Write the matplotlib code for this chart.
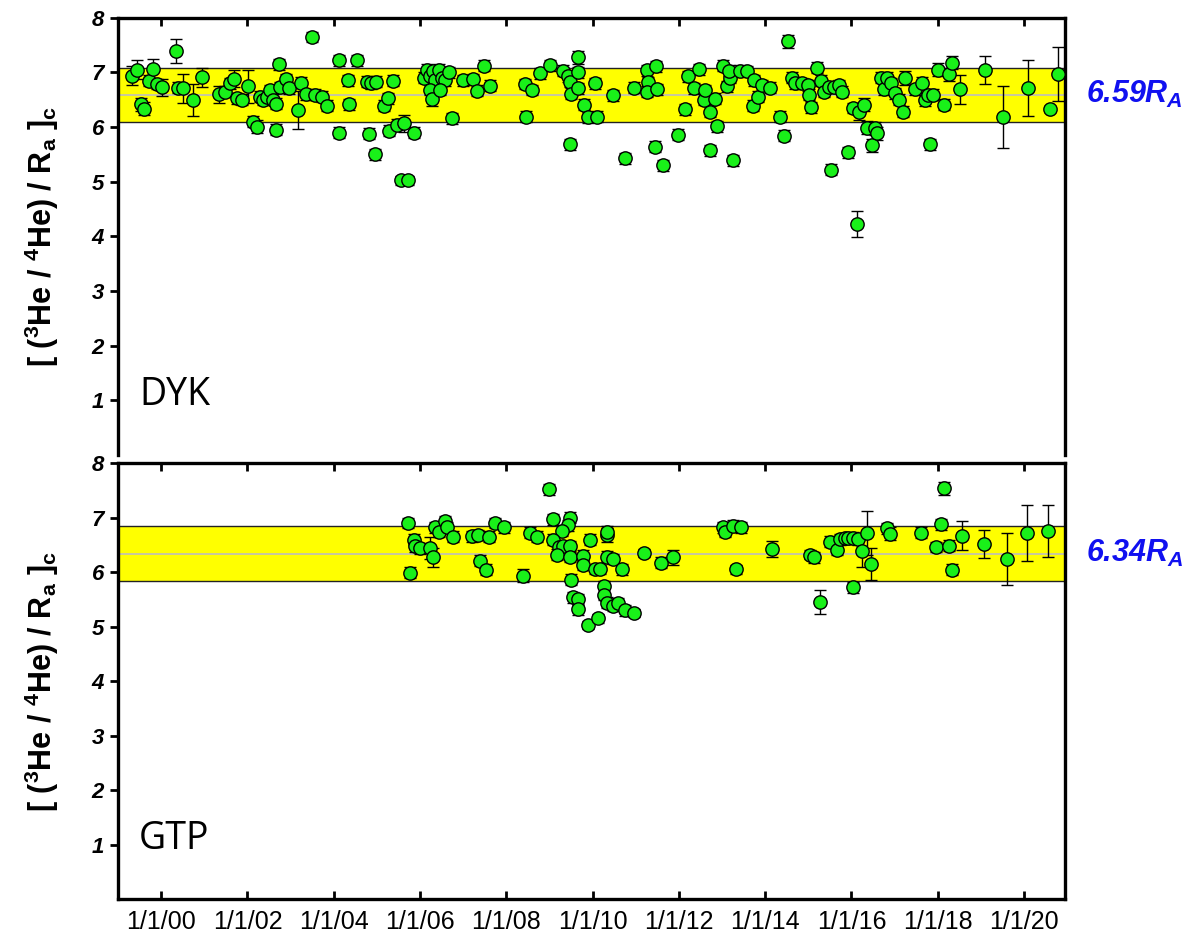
import numpy as np
import matplotlib
matplotlib.use("Agg")
import matplotlib.pyplot as plt

plt.rcParams['font.family'] = ['Liberation Sans', 'DejaVu Sans']

## DYK: год (десятичный), отношение, погрешность
dyk_year = [1999.32, 1999.44, 1999.53, 1999.61, 1999.72, 1999.81, 1999.90, 2000.03, 2000.35, 2000.39,
            2000.50, 2000.73, 2000.94, 2001.34, 2001.48, 2001.60, 2001.68, 2001.75, 2001.87, 2002.02,
            2002.12, 2002.22, 2002.29, 2002.37, 2002.45, 2002.53, 2002.60, 2002.65, 2002.67, 2002.74,
            2002.76, 2002.90, 2002.96, 2003.17, 2003.24, 2003.36, 2003.49, 2003.57, 2003.72, 2003.85,
            2004.11, 2004.12, 2004.33, 2004.36, 2004.53, 2004.77, 2004.82, 2004.87, 2004.96, 2004.98,
            2005.17, 2005.25, 2005.27, 2005.38, 2005.46, 2005.55, 2005.62, 2005.87, 2005.73,
            2006.08, 2006.16, 2006.23, 2006.31, 2006.35, 2006.43, 2006.50, 2006.58, 2006.66, 2006.23,
            2006.27, 2006.47, 2006.74, 2006.99, 2007.22, 2007.32, 2007.49, 2007.61, 2008.44, 2008.46,
            2008.59, 2008.78, 2009.02, 2009.31, 2009.44, 2009.48, 2009.50, 2009.66, 2009.67, 2009.65,
            2009.48, 2009.80, 2009.90, 2010.10, 2010.06, 2010.48, 2010.74, 2010.97, 2011.25, 2011.28,
            2011.25, 2011.47, 2011.49, 2011.45, 2011.63, 2011.99, 2012.13, 2012.22, 2012.34, 2012.47,
            2012.57, 2012.61, 2012.71, 2012.84, 2012.88, 2012.72, 2013.02, 2013.11, 2013.19, 2013.15,
            2013.26, 2013.42, 2013.57, 2013.73, 2013.71, 2013.84, 2013.92, 2014.11, 2014.34, 2014.44,
            2014.52, 2014.62, 2014.69, 2014.85, 2015.00, 2015.02, 2015.06, 2015.20, 2015.30, 2015.37,
            2015.47, 2015.60, 2015.70, 2015.77, 2015.52, 2015.93, 2016.03, 2016.18, 2016.28, 2016.12,
            2016.37, 2016.47, 2016.55, 2016.60, 2016.68, 2016.76, 2016.82, 2016.92, 2017.00, 2017.11,
            2017.20, 2017.24, 2017.47, 2017.63, 2017.71, 2017.78, 2017.90, 2017.82, 2018.00, 2018.15,
            2018.25, 2018.34, 2018.52, 2019.10, 2019.51, 2020.09, 2020.59, 2020.78]
dyk_val = [6.94, 7.05, 6.42, 6.34, 6.85, 7.06, 6.79, 6.73, 7.40, 6.72,
           6.71, 6.50, 6.91, 6.60, 6.65, 6.80, 6.89, 6.53, 6.50, 6.75,
           6.10, 6.01, 6.56, 6.50, 6.56, 6.68, 6.50, 5.95, 6.43, 7.15,
           6.73, 6.88, 6.71, 6.31, 6.81, 6.60, 7.65, 6.59, 6.56, 6.39,
           7.22, 5.90, 6.86, 6.42, 7.22, 6.83, 5.88, 6.80, 5.50, 6.83,
           6.39, 6.53, 5.93, 6.85, 6.04, 5.03, 6.07, 5.90, 5.03,
           6.90, 7.05, 6.93, 7.02, 6.86, 7.05, 6.90, 6.86, 7.00, 6.68,
           6.51, 6.68, 6.16, 6.86, 6.88, 6.67, 7.12, 6.76, 6.79, 6.19,
           6.68, 6.99, 7.13, 7.03, 6.93, 6.83, 6.61, 7.28, 7.00, 6.71,
           5.69, 6.41, 6.18, 6.19, 6.80, 6.58, 5.43, 6.72, 7.04, 6.82,
           6.65, 7.11, 6.69, 5.64, 5.30, 5.86, 6.33, 6.93, 6.71, 7.06,
           6.50, 6.68, 6.28, 6.52, 6.02, 5.58, 7.12, 6.75, 6.90, 7.03,
           5.39, 7.03, 7.02, 6.86, 6.39, 6.56, 6.77, 6.72, 6.19, 5.84,
           7.57, 6.90, 6.80, 6.80, 6.77, 6.59, 6.36, 7.09, 6.85, 6.65,
           6.73, 6.73, 6.77, 6.65, 5.22, 5.54, 6.35, 6.28, 6.41, 4.23,
           5.99, 5.67, 5.98, 5.89, 6.90, 6.69, 6.90, 6.80, 6.62, 6.50,
           6.28, 6.90, 6.69, 6.80, 6.50, 6.59, 6.59, 5.69, 7.05, 6.41,
           6.97, 7.18, 6.69, 7.05, 6.18, 6.71, 6.33, 6.97]
dyk_err = [0.17, 0.17, 0.12, 0.12, 0.10, 0.18, 0.10, 0.16, 0.22, 0.10,
           0.26, 0.29, 0.17, 0.15, 0.10, 0.10, 0.15, 0.10, 0.10, 0.30,
           0.10, 0.12, 0.10, 0.10, 0.10, 0.10, 0.10, 0.10, 0.10, 0.10,
           0.10, 0.10, 0.10, 0.35, 0.10, 0.10, 0.10, 0.10, 0.10, 0.10,
           0.10, 0.10, 0.10, 0.10, 0.10, 0.10, 0.10, 0.10, 0.10, 0.10,
           0.10, 0.10, 0.10, 0.10, 0.10, 0.08, 0.15, 0.10, 0.08,
           0.10, 0.10, 0.10, 0.10, 0.10, 0.10, 0.10, 0.10, 0.10, 0.10,
           0.12, 0.10, 0.10, 0.10, 0.10, 0.10, 0.10, 0.10, 0.10, 0.10,
           0.10, 0.10, 0.10, 0.10, 0.10, 0.10, 0.10, 0.12, 0.10, 0.10,
           0.10, 0.10, 0.10, 0.10, 0.10, 0.10, 0.10, 0.10, 0.10, 0.10,
           0.10, 0.10, 0.10, 0.10, 0.10, 0.10, 0.10, 0.10, 0.10, 0.10,
           0.10, 0.10, 0.10, 0.10, 0.10, 0.10, 0.10, 0.10, 0.10, 0.10,
           0.10, 0.10, 0.10, 0.10, 0.10, 0.10, 0.10, 0.10, 0.10, 0.10,
           0.12, 0.10, 0.10, 0.10, 0.10, 0.10, 0.10, 0.10, 0.10, 0.10,
           0.10, 0.10, 0.10, 0.10, 0.10, 0.10, 0.10, 0.15, 0.12, 0.24,
           0.12, 0.12, 0.12, 0.12, 0.10, 0.10, 0.10, 0.10, 0.10, 0.10,
           0.10, 0.12, 0.10, 0.12, 0.12, 0.10, 0.10, 0.10, 0.12, 0.10,
           0.12, 0.12, 0.27, 0.26, 0.57, 0.51, 0.06, 0.50]

## GTP
gtp_year = [2005.71, 2005.77, 2005.85, 2005.89, 2006.00, 2006.22, 2006.31, 2006.35, 2006.43, 2006.58,
            2006.62, 2006.76, 2007.20, 2007.35, 2007.39, 2007.53, 2007.59, 2007.74, 2007.95, 2008.38,
            2008.55, 2008.71, 2009.00, 2009.09, 2009.48, 2009.42, 2009.29, 2009.09, 2009.21, 2009.32,
            2009.48, 2009.17, 2009.48, 2009.77, 2009.77, 2009.49, 2009.54, 2009.67, 2009.66, 2009.90,
            2010.13, 2009.93, 2010.06, 2010.17, 2010.33, 2010.33, 2010.33, 2010.48, 2010.69, 2010.27,
            2010.27, 2010.33, 2010.48, 2010.58, 2010.74, 2010.95, 2011.18, 2011.59, 2011.87, 2013.03,
            2013.07, 2013.26, 2013.44, 2013.33, 2014.15, 2015.04, 2015.14, 2015.27, 2015.50, 2015.67,
            2015.74, 2015.85, 2015.93, 2016.04, 2016.16, 2016.03, 2016.24, 2016.37, 2016.45, 2016.82,
            2016.89, 2017.60, 2017.97, 2018.08, 2018.25, 2018.32, 2018.15, 2018.57, 2019.08, 2019.60,
            2020.06, 2020.56]
gtp_val = [6.90, 5.99, 6.59, 6.47, 6.44, 6.44, 6.27, 6.82, 6.74, 6.93,
           6.82, 6.65, 6.66, 6.68, 6.21, 6.04, 6.65, 6.90, 6.82, 5.93,
           6.72, 6.65, 7.52, 6.97, 7.00, 6.86, 6.76, 6.59, 6.46, 6.47,
           6.47, 6.32, 6.28, 6.30, 6.13, 5.86, 5.54, 5.50, 5.32, 5.03,
           5.15, 6.59, 6.05, 6.05, 6.68, 6.74, 6.28, 6.24, 6.05, 5.74,
           5.58, 5.44, 5.38, 5.43, 5.30, 5.25, 6.35, 6.17, 6.27, 6.82,
           6.74, 6.85, 6.82, 6.05, 6.42, 6.32, 6.27, 5.45, 6.56, 6.41,
           6.60, 6.62, 6.62, 6.63, 6.60, 5.72, 6.38, 6.72, 6.15, 6.80,
           6.70, 6.72, 6.46, 6.88, 6.48, 6.04, 7.54, 6.67, 6.52, 6.24,
           6.72, 6.75]
gtp_err = [0.10, 0.10, 0.10, 0.10, 0.10, 0.20, 0.17, 0.10, 0.10, 0.10,
           0.10, 0.10, 0.10, 0.10, 0.10, 0.10, 0.10, 0.10, 0.10, 0.12,
           0.10, 0.10, 0.10, 0.10, 0.10, 0.10, 0.10, 0.10, 0.10, 0.10,
           0.10, 0.10, 0.10, 0.10, 0.10, 0.10, 0.10, 0.10, 0.10, 0.08,
           0.08, 0.10, 0.08, 0.08, 0.12, 0.10, 0.10, 0.10, 0.10, 0.10,
           0.10, 0.10, 0.10, 0.10, 0.10, 0.08, 0.08, 0.10, 0.14, 0.10,
           0.10, 0.10, 0.10, 0.08, 0.15, 0.08, 0.10, 0.22, 0.10, 0.10,
           0.10, 0.10, 0.10, 0.10, 0.10, 0.10, 0.28, 0.40, 0.30, 0.10,
           0.12, 0.10, 0.10, 0.10, 0.10, 0.10, 0.12, 0.26, 0.26, 0.48,
           0.51, 0.48]

dyk_mean = 6.59
gtp_mean = 6.34
band = 0.5
tick_years = list(range(2000, 2021, 2))
tick_labels = ["1/1/%02d" % (y - 2000) for y in tick_years]

fig = plt.figure(figsize=(12.01, 9.40), dpi=100)
ax1 = fig.add_axes([0.0983, 0.516, 0.7885, 0.465])
ax2 = fig.add_axes([0.0983, 0.0436, 0.7885, 0.4638])

ylab = r"[ ($^\mathregular{3}$He / $^\mathregular{4}$He) / R$_\mathregular{a}$ ]$_\mathregular{c}$"

for ax, yr, val, err, m, name in [(ax1, dyk_year, dyk_val, dyk_err, dyk_mean, "DYK"),
                                  (ax2, gtp_year, gtp_val, gtp_err, gtp_mean, "GTP")]:
    ax.axhspan(m - band, m + band, facecolor='#FFFF00', edgecolor='#222222', lw=1.0, zorder=1)
    ax.axhline(m, color='#BDBDBD', lw=1.2, zorder=1.5)
    ax.errorbar(yr, val, yerr=err, fmt='o', ms=9.6, mfc='#19F019', mec='black', mew=1.0,
                ecolor='black', elinewidth=1.0, capsize=4.5, capthick=1.0, zorder=3)
    ax.set_xlim(1999.0, 2020.95)
    ax.set_ylim(0, 8)
    ax.set_yticks(range(1, 9))
    ax.set_yticklabels([str(i) for i in range(1, 9)], fontsize=16, fontweight='bold', fontstyle='italic')
    ax.set_xticks(tick_years)
    ax.tick_params(axis='y', direction='out', length=6, width=2, pad=4)
    ax.tick_params(axis='x', direction='in', length=6, width=2, top=True)
    for s in ax.spines.values():
        s.set_linewidth(2.4)
    ax.set_ylabel(ylab, fontsize=22, fontweight='bold', labelpad=22)
    ax.text(0.022, 0.115, name, transform=ax.transAxes, fontsize=27, family='Open Sans')

ax1.spines['bottom'].set_visible(False)
ax1.tick_params(axis='x', bottom=False, labelbottom=False)
ax2.set_xticklabels(tick_labels, fontsize=18)
ax2.tick_params(axis='x', pad=8)

ax1.text(1.022, dyk_mean, "%.2fR$_\\mathregular{A}$" % dyk_mean, transform=ax1.get_yaxis_transform(),
         color='#1010F0', fontsize=22, fontweight='bold', fontstyle='italic', va='center')
ax2.text(1.022, gtp_mean, "%.2fR$_\\mathregular{A}$" % gtp_mean, transform=ax2.get_yaxis_transform(),
         color='#1010F0', fontsize=22, fontweight='bold', fontstyle='italic', va='center')

fig.savefig("out.png", dpi=100)
